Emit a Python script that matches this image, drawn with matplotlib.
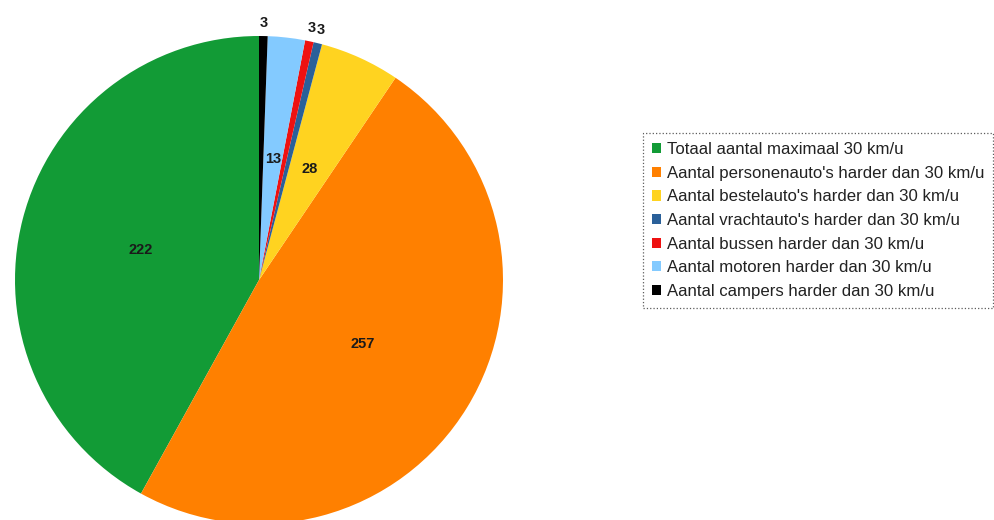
import numpy as np
import matplotlib
matplotlib.use("Agg")
import matplotlib.pyplot as plt

plt.rcParams["font.family"] = ["Liberation Sans", "DejaVu Sans"]

labels = [
    "Totaal aantal maximaal 30 km/u",
    "Aantal personenauto's harder dan 30 km/u",
    "Aantal bestelauto's harder dan 30 km/u",
    "Aantal vrachtauto's harder dan 30 km/u",
    "Aantal bussen harder dan 30 km/u",
    "Aantal motoren harder dan 30 km/u",
    "Aantal campers harder dan 30 km/u",
]
values = [222, 257, 28, 3, 3, 13, 3]
colors = ["#129b36", "#ff8000", "#ffd320", "#2a6099", "#ee1111", "#83caff", "#000000"]

W, H = 994, 520
fig = plt.figure(figsize=(W / 100, H / 100), dpi=100)
cx, cy, r = 259, 280, 244
ax = fig.add_axes([(cx - r) / W, (H - cy - r) / H, 2 * r / W, 2 * r / H])

wedges, _ = ax.pie(values, colors=colors, startangle=90, counterclock=True,
                   radius=1.0, wedgeprops=dict(linewidth=0))
ax.set_aspect("equal")
ax.set_xlim(-1, 1)
ax.set_ylim(-1, 1)

# value labels: inside for larger slices, just outside for the tiny ones
for w, v in zip(wedges, values):
    mid = np.deg2rad((w.theta1 + w.theta2) / 2)
    d = 0.5 if v > 10 else 1.055
    ax.text(d * np.cos(mid), d * np.sin(mid), str(v), ha="center", va="center",
            fontsize=10.5, fontweight="bold", color="#1a1a1a")

leg = fig.legend(wedges, labels, loc="upper left",
                 bbox_to_anchor=(643 / W, 1 - 133 / H), fontsize=12.1,
                 handlelength=0.55, handleheight=0.55, handletextpad=0.3,
                 labelspacing=0.51, borderpad=0.55, borderaxespad=0,
                 fancybox=False, labelcolor="#222222")
frame = leg.get_frame()
frame.set_linestyle(":")
frame.set_edgecolor("#333333")
frame.set_linewidth(0.9)

fig.savefig("out.png", dpi=100)
